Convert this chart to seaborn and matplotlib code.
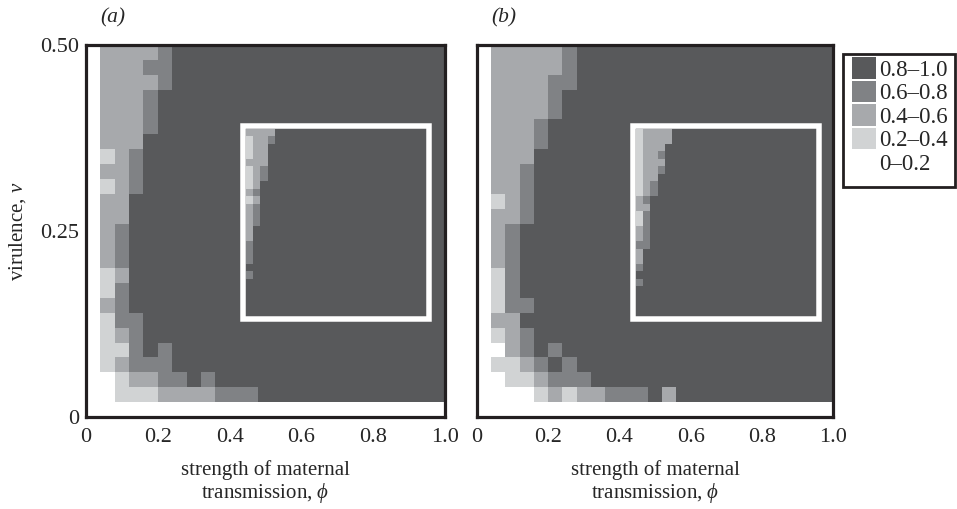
import numpy as np
import pandas as pd
import seaborn as sns
import matplotlib
matplotlib.use('Agg')
import matplotlib.pyplot as plt
from matplotlib.colors import ListedColormap, BoundaryNorm
from matplotlib.patches import Patch, Rectangle

# ---------------- data ----------------
level_labels = ['0–0.2', '0.2–0.4', '0.4–0.6', '0.6–0.8', '0.8–1.0']
level_colors = ['#ffffff', '#d1d3d4', '#a7a9ac', '#808285', '#58595b']

phi_ticks = [0, 0.2, 0.4, 0.6, 0.8, 1.0]
phi_tick_labels = ['0', '0.2', '0.4', '0.6', '0.8', '1.0']
v_ticks = [0.5, 0.25, 0.0]
v_tick_labels = ['0.50', '0.25', '0']
phi_step = 0.04
v_step = 0.02
v_max = 0.5

# category codes (0..4), rows from top (v = 0.50) to bottom (v = 0), columns phi = 0 .. 1
grid_a = [
    "0222234444444444444444444",
    "0222334444444444444444444",
    "0222234444444444444444444",
    "0222344444444444444444444",
    "0222344444444444444444444",
    "0222344444444444444444444",
    "0222444444444444444444444",
    "0123444444444444444444444",
    "0223444444444444444444444",
    "0123444444444444444444444",
    "0224444444444444444444444",
    "0224444444444444444444444",
    "0234444444444444444444444",
    "0234444444444444444444444",
    "0234444444444444444444444",
    "0124444444444444444444444",
    "0134444444444444444444444",
    "0234444444444444444444444",
    "0133444444444444444444444",
    "0123444444444444444444444",
    "0113434444444444444444444",
    "0123334444444444444444444",
    "0012233434444444444444444",
    "0011122223334444444444444",
    "0000000000000000000000000",
]

inset_a = [
    "2222444444444444444444444",
    "1223444444444444444444444",
    "1224444444444444444444444",
    "1224444444444444444444444",
    "2224444444444444444444444",
    "1234444444444444444444444",
    "1234444444444444444444444",
    "1244444444444444444444444",
    "2344444444444444444444444",
    "1244444444444444444444444",
    "2344444444444444444444444",
    "2344444444444444444444444",
    "2344444444444444444444444",
    "2444444444444444444444444",
    "2444444444444444444444444",
    "3444444444444444444444444",
    "3444444444444444444444444",
    "3444444444444444444444444",
    "4444444444444444444444444",
    "3444444444444444444444444",
    "4444444444444444444444444",
    "4444444444444444444444444",
    "4444444444444444444444444",
    "4444444444444444444444444",
    "4444444444444444444444444",
]

grid_b = [
    "0222223444444444444444444",
    "0222223444444444444444444",
    "0222233444444444444444444",
    "0222234444444444444444444",
    "0222234444444444444444444",
    "0222344444444444444444444",
    "0222344444444444444444444",
    "0222444444444444444444444",
    "0223444444444444444444444",
    "0223444444444444444444444",
    "0123444444444444444444444",
    "0223444444444444444444444",
    "0234444444444444444444444",
    "0234444444444444444444444",
    "0234444444444444444444444",
    "0134444444444444444444444",
    "0134444444444444444444444",
    "0133444444444444444444444",
    "0224444444444444444444444",
    "0123444444444444444444444",
    "0023434444444444444444444",
    "0112343444444444444444444",
    "0011233344444444444444444",
    "0000121223334244444444444",
    "0000000000000000000000000",
]

inset_b = [
    "1222244444444444444444444",
    "1222244444444444444444444",
    "1222444444444444444444444",
    "1223444444444444444444444",
    "1222444444444444444444444",
    "1223444444444444444444444",
    "1224444444444444444444444",
    "1234444444444444444444444",
    "1234444444444444444444444",
    "2344444444444444444444444",
    "2244444444444444444444444",
    "1344444444444444444444444",
    "1344444444444444444444444",
    "2344444444444444444444444",
    "2344444444444444444444444",
    "3344444444444444444444444",
    "2444444444444444444444444",
    "2444444444444444444444444",
    "3444444444444444444444444",
    "4444444444444444444444444",
    "3444444444444444444444444",
    "4444444444444444444444444",
    "4444444444444444444444444",
    "4444444444444444444444444",
    "4444444444444444444444444",
]

# ---------------- style ----------------
sns.set_style('white')
plt.rcParams['font.family'] = ['Liberation Serif', 'DejaVu Serif']
plt.rcParams['mathtext.fontset'] = 'custom'
plt.rcParams['mathtext.rm'] = 'Liberation Serif'
plt.rcParams['mathtext.it'] = 'Liberation Serif:italic'
plt.rcParams['mathtext.fallback'] = 'stixsans'

cmap = ListedColormap(level_colors)
norm = BoundaryNorm(np.arange(-0.5, 5.5, 1.0), cmap.N)
frame_color = '#231f20'
tick_fs = 16
label_fs = 15

def to_frame(rows):
    return pd.DataFrame([[int(c) for c in r] for r in rows])


fig = plt.figure(figsize=(9.57, 5.09), dpi=100)
W, H = 957.0, 509.0

# (label, main grid, inset grid, panel x-extent px, inset rect, white frame rect, show y)
panels = [
    ('(a)', grid_a, inset_a, [86, 445],
     [0.4457, 0.2715, 0.5014, 0.5027], [0.4380, 0.2641, 0.5167, 0.5175], True),
    ('(b)', grid_b, inset_b, [477, 833],
     [0.4466, 0.2715, 0.5056, 0.5027], [0.4389, 0.2641, 0.5211, 0.5175], False),
]
top_px, bottom_px = 45, 417

for label, grid, inset, (x0, x1), inset_rect, frame_rect, show_y in panels:
    ax = fig.add_axes([x0 / W, 1 - bottom_px / H, (x1 - x0) / W, (bottom_px - top_px) / H])
    df = to_frame(grid)
    sns.heatmap(df, cmap=cmap, norm=norm, cbar=False, ax=ax,
                xticklabels=False, yticklabels=False)
    ncol = df.shape[1]
    nrow = df.shape[0]
    ax.set_xlim(0, ncol)
    ax.set_ylim(nrow, 0)
    ax.set_xticks([p / phi_step for p in phi_ticks])
    ax.set_xticklabels(phi_tick_labels, fontsize=tick_fs)
    if show_y:
        ax.set_yticks([(v_max - v) / v_step for v in v_ticks])
        ax.set_yticklabels(v_tick_labels, fontsize=tick_fs, rotation=0)
        ax.set_ylabel('virulence, $\\nu$', fontsize=label_fs, labelpad=8.5)
    else:
        ax.set_yticks([])
    ax.tick_params(axis='x', length=0, pad=8)
    ax.tick_params(axis='y', length=0, pad=5)
    ax.set_xlabel('strength of maternal\ntransmission, $\\phi$', fontsize=label_fs,
                  labelpad=9, linespacing=1.1)
    for s in ax.spines.values():
        s.set_visible(True)
        s.set_linewidth(2.3)
        s.set_color(frame_color)
        s.set_zorder(5)

    # white frame of the inset
    ax.add_patch(Rectangle((frame_rect[0], frame_rect[1]), frame_rect[2], frame_rect[3],
                           transform=ax.transAxes, fill=False, edgecolor='white',
                           linewidth=3.96, zorder=4, joinstyle='miter'))
    iax = ax.inset_axes(inset_rect)
    sns.heatmap(to_frame(inset), cmap=cmap, norm=norm, cbar=False, ax=iax,
                xticklabels=False, yticklabels=False)
    iax.set_xticks([])
    iax.set_yticks([])
    for s in iax.spines.values():
        s.set_visible(False)

    fig.text((x0 + 14) / W, 1 - 18 / H, label, fontsize=15.5, style='italic',
             ha='left', va='center')

# legend (entries without frame, frame drawn separately)
handles = [Patch(facecolor=c, edgecolor='none', label=l)
           for c, l in zip(level_colors[::-1], level_labels[::-1])]
leg = fig.legend(handles=handles, loc='upper left',
                 bbox_to_anchor=(852 / W, 1 - 57.5 / H),
                 frameon=False, fontsize=16.5,
                 handlelength=1.05, handleheight=1.05, handletextpad=0.13,
                 labelspacing=0.0, borderpad=0.0, borderaxespad=0.0)
fig.add_artist(Rectangle((843 / W, 1 - 187 / H), 112 / W, (187 - 54) / H,
                         transform=fig.transFigure, fill=False,
                         edgecolor=frame_color, linewidth=2.0))

fig.savefig('out.png', dpi=100)
